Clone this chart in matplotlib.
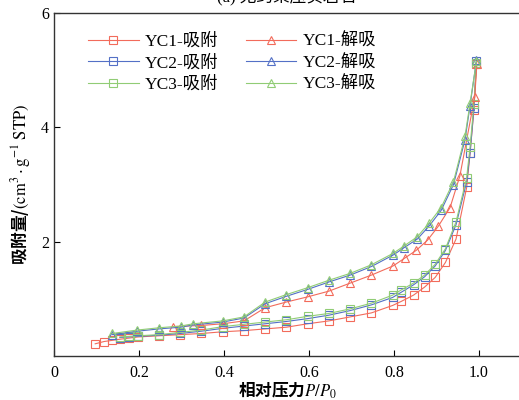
import matplotlib
matplotlib.use("Agg")
import matplotlib.pyplot as plt

plt.rcParams['font.family'] = ['Liberation Serif', 'Noto Sans CJK SC']
plt.rcParams['mathtext.fontset'] = 'stix'

# adsorption branches (squares)
p_ads_yc1 = [0.097, 0.118, 0.137, 0.155, 0.177, 0.198, 0.247, 0.297, 0.347, 0.397, 0.447, 0.497,
             0.547, 0.597, 0.647, 0.697, 0.747, 0.797, 0.817, 0.846, 0.872, 0.897, 0.921, 0.946,
             0.971, 0.979, 0.988, 0.994]
v_ads_yc1 = [0.22, 0.26, 0.28, 0.30, 0.32, 0.34, 0.36, 0.38, 0.40, 0.43, 0.45, 0.48,
             0.51, 0.57, 0.62, 0.69, 0.76, 0.89, 0.96, 1.07, 1.21, 1.38, 1.64, 2.05,
             2.95, 3.55, 4.30, 5.10]
p_ads = [0.155, 0.177, 0.198, 0.247, 0.297, 0.347, 0.397, 0.447, 0.497, 0.547, 0.597, 0.647,
         0.697, 0.747, 0.797, 0.817, 0.846, 0.872, 0.897, 0.921, 0.946, 0.971, 0.979, 0.988, 0.994]
v_ads_yc2 = [0.33, 0.34, 0.35, 0.37, 0.40, 0.44, 0.49, 0.53, 0.57, 0.61, 0.66, 0.72,
             0.80, 0.90, 1.03, 1.12, 1.25, 1.39, 1.58, 1.85, 2.30, 3.05, 3.55, 4.33, 5.15]
v_ads_yc3 = [0.34, 0.35, 0.36, 0.38, 0.42, 0.46, 0.52, 0.56, 0.60, 0.64, 0.70, 0.75,
             0.83, 0.93, 1.07, 1.16, 1.28, 1.42, 1.61, 1.88, 2.35, 3.12, 3.66, 4.40, 5.12]

# desorption branches (triangles)
p_des_yc1 = [0.995, 0.990, 0.955, 0.932, 0.904, 0.879, 0.852, 0.826, 0.798, 0.747, 0.697,
             0.647, 0.597, 0.547, 0.497, 0.447, 0.397, 0.347, 0.279]
v_des_yc1 = [5.10, 4.53, 3.15, 2.60, 2.27, 2.03, 1.85, 1.72, 1.58, 1.42, 1.28,
             1.14, 1.04, 0.95, 0.85, 0.62, 0.57, 0.54, 0.52]
p_des = [0.994, 0.979, 0.967, 0.940, 0.911, 0.883, 0.855, 0.824, 0.798, 0.747, 0.697,
         0.647, 0.597, 0.547, 0.497, 0.447, 0.397, 0.328, 0.298, 0.247, 0.196, 0.137]
v_des_yc2 = [5.17, 4.38, 3.78, 3.00, 2.55, 2.28, 2.05, 1.90, 1.77, 1.57, 1.42,
             1.30, 1.17, 1.05, 0.92, 0.67, 0.60, 0.55, 0.51, 0.48, 0.44, 0.38]
v_des_yc3 = [5.15, 4.42, 3.84, 3.05, 2.60, 2.33, 2.09, 1.93, 1.80, 1.60, 1.45,
             1.33, 1.20, 1.08, 0.95, 0.69, 0.62, 0.57, 0.53, 0.50, 0.46, 0.40]

red = '#f26b5b'
blue = '#5470c6'
green = '#91cc75'

fig = plt.figure(figsize=(5.19, 4.0), dpi=100)
ax = fig.add_axes([0.104, 0.109, 0.9008, 0.859])

kw = dict(lw=0.8, ms=5.5, mfc='none', mew=0.8)
ax.plot(p_ads_yc1, v_ads_yc1, '-s', color=red, label='YC1-吸附', **kw)
ax.plot(p_ads, v_ads_yc2, '-s', color=blue, label='YC2-吸附', **kw)
ax.plot(p_ads, v_ads_yc3, '-s', color=green, label='YC3-吸附', **kw)
ax.plot(p_des_yc1, v_des_yc1, '-^', color=red, label='YC1-解吸', **kw)
ax.plot(p_des, v_des_yc2, '-^', color=blue, label='YC2-解吸', **kw)
ax.plot(p_des, v_des_yc3, '-^', color=green, label='YC3-解吸', **kw)

ax.set_xlim(0, 1.1)
ax.set_ylim(0, 6)
ax.set_xticks([0, 0.2, 0.4, 0.6, 0.8, 1.0])
ax.set_xticklabels(['0', '0.2', '0.4', '0.6', '0.8', '1.0'])
ax.set_yticks([2, 4, 6])
ax.tick_params(direction='in', labelsize=11.5, length=4, width=0.8)
ax.tick_params(axis='x', pad=6)
for s in ax.spines.values():
    s.set_linewidth(1.0)
    s.set_color('#333333')

# CJK font first so the plain part of the mathtext string finds its glyphs
ax.set_xlabel(r'相对压力$P/P_0$', fontsize=12, labelpad=0,
              family='Noto Sans CJK SC', fontweight='bold')
ax.set_ylabel(r'吸附量/$(\mathrm{cm}^3\cdot\mathrm{g}^{-1}\ \mathrm{STP})$', fontsize=12,
              labelpad=6, family='Noto Sans CJK SC', fontweight='bold')

ax.legend(loc='upper left', bbox_to_anchor=(0.04, 0.985), ncol=2, frameon=False,
          fontsize=12.5, handlelength=2.9, columnspacing=1.6, labelspacing=0.3,
          handletextpad=0.35)

fig.text(0.553, 0.986, '(a) 无约束压实岩石', ha='center', va='bottom', fontsize=12)

fig.savefig('out.png', dpi=100)
